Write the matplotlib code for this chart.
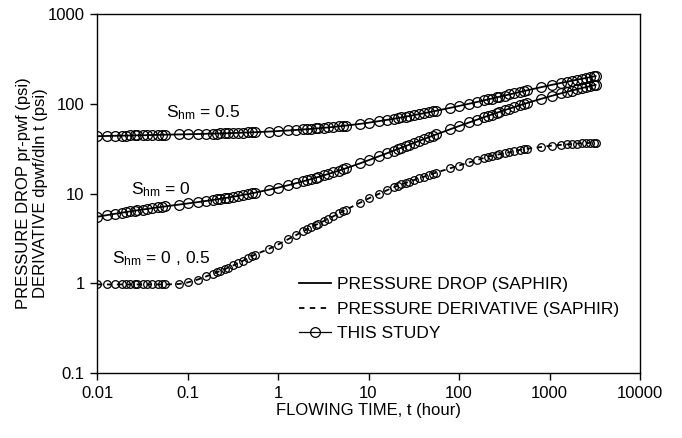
import numpy as np
import matplotlib
matplotlib.use("Agg")
import matplotlib.pyplot as plt
from matplotlib.lines import Line2D

plt.rcParams['font.family'] = ['Liberation Sans', 'DejaVu Sans']
plt.rcParams['mathtext.default'] = 'regular'

# flowing time (hour), same sampling for all three curves
t = [0.010, 0.013, 0.016, 0.019, 0.021, 0.023, 0.026, 0.028, 0.032, 0.036, 0.041, 0.047, 0.052, 0.056, 0.080,
     0.10, 0.13, 0.16, 0.19, 0.21, 0.23, 0.26, 0.28, 0.32, 0.36, 0.41, 0.47, 0.52, 0.56, 0.80,
     1.0, 1.3, 1.6, 1.9, 2.1, 2.3, 2.6, 2.8, 3.2, 3.6, 4.1, 4.7, 5.2, 5.6, 8.0,
     10, 13, 16, 19, 21, 23, 26, 28, 32, 36, 41, 47, 52, 56, 80,
     100, 130, 160, 190, 210, 230, 260, 280, 320, 360, 410, 470, 520, 560, 800,
     1060, 1330, 1550, 1760, 2000, 2260, 2510, 2770, 3080, 3230]

# pressure drop, Shm = 0.5
dp_s05 = [43.5, 43.75, 43.95, 44.1, 44.2, 44.3, 44.4, 44.5, 44.6, 44.7, 44.9, 45.0, 45.1, 45.2, 45.5,
          45.7, 46.0, 46.3, 46.5, 46.6, 46.7, 46.9, 47.0, 47.2, 47.4, 47.6, 47.9, 48.1, 48.2, 49.0,
          49.6, 50.4, 51.1, 51.7, 52.1, 52.4, 53.0, 53.3, 53.9, 54.5, 55.2, 56.0, 56.6, 57.1, 59.6,
          61.5, 64.0, 66.1, 68.0, 69.2, 70.4, 72.0, 73.0, 74.8, 76.5, 78.4, 80.6, 82.3, 83.5, 90.0,
          94.5, 100.2, 105.0, 109.3, 111.9, 114.3, 117.7, 119.7, 123.5, 127.0, 130.9, 135.2, 138.4, 140.8, 152.6,
          162.3, 170.3, 175.8, 180.4, 185.1, 189.6, 193.5, 197.2, 201.2, 203.0]

# pressure drop, Shm = 0
dp_s0 = [5.5, 5.75, 5.95, 6.12, 6.22, 6.31, 6.43, 6.5, 6.63, 6.74, 6.87, 7.0, 7.1, 7.17, 7.52,
         7.74, 8.02, 8.26, 8.47, 8.6, 8.72, 8.89, 9.0, 9.21, 9.4, 9.63, 9.88, 10.08, 10.23, 11.04,
         11.62, 12.38, 13.06, 13.68, 14.07, 14.44, 14.97, 15.3, 15.93, 16.52, 17.21, 17.99, 18.59, 19.05, 21.62,
         23.48, 25.93, 28.09, 30.03, 31.23, 32.36, 33.94, 34.93, 36.78, 38.48, 40.44, 42.6, 44.26, 45.51, 51.97,
         56.39, 61.98, 66.75, 70.94, 73.48, 75.85, 79.13, 81.14, 84.86, 88.22, 92.01, 96.13, 99.25, 101.57, 113.07,
         122.5, 130.33, 135.69, 140.19, 144.77, 149.17, 152.98, 156.59, 160.48, 162.23]

# pressure derivative, Shm = 0 and 0.5
deriv = [0.97, 0.97, 0.97, 0.97, 0.97, 0.97, 0.97, 0.97, 0.97, 0.97, 0.97, 0.97, 0.97, 0.97, 0.98,
         1.02, 1.10, 1.19, 1.27, 1.32, 1.37, 1.44, 1.49, 1.58, 1.67, 1.78, 1.91, 2.01, 2.09, 2.42,
         2.7, 3.1, 3.46, 3.8, 3.99, 4.19, 4.46, 4.62, 4.93, 5.23, 5.58, 5.99, 6.32, 6.57, 7.86,
         8.8, 9.9, 10.87, 11.75, 12.2, 12.6, 13.15, 13.5, 14.15, 14.7, 15.4, 16.2, 16.7, 17.1, 19.1,
         20.5, 22.2, 23.7, 25.0, 25.8, 26.3, 27.0, 27.4, 28.1, 28.8, 29.5, 30.6, 31.2, 31.5, 32.9,
         34.2, 34.8, 35.2, 35.6, 36.0, 36.2, 36.4, 36.6, 36.7, 36.8]

xticks = [0.01, 0.1, 1, 10, 100, 1000, 10000]
xtick_labels = ['0.01', '0.1', '1', '10', '100', '1000', '10000']
yticks = [0.1, 1, 10, 100, 1000]
ytick_labels = ['0.1', '1', '10', '100', '1000']

fig = plt.figure(figsize=(6.82, 4.38), dpi=100)
ax = fig.add_axes([97 / 682, 1 - 373 / 438, (640 - 97) / 682, (373 - 14) / 438])

lw = 1.3
dash = (0, (3, 2.5))
ax.plot(t, dp_s05, color='black', lw=lw)
ax.plot(t, dp_s0, color='black', lw=lw)
ax.plot(t, deriv, color='black', lw=lw, linestyle=dash)
ax.plot(t, dp_s05, 'o', ms=7, mfc='none', mec='black', mew=0.9)
ax.plot(t, dp_s0, 'o', ms=7, mfc='none', mec='black', mew=0.9)
ax.plot(t, deriv, 'o', ms=5.5, mfc='none', mec='black', mew=0.9)

ax.set_xscale('log')
ax.set_yscale('log')
ax.set_xlim(0.01, 10000)
ax.set_ylim(0.1, 1000)
ax.set_xticks(xticks)
ax.set_xticklabels(xtick_labels)
ax.set_yticks(yticks)
ax.set_yticklabels(ytick_labels)
ax.minorticks_off()
ax.tick_params(direction='out', length=5, width=1, labelsize=12, pad=4)
for s in ax.spines.values():
    s.set_linewidth(1)

ax.text(0.0575, 79, 'S$_{hm}$ = 0.5', fontsize=12.5, va='center', ha='left')
ax.text(0.0237, 10.9, 'S$_{hm}$ = 0', fontsize=12.5, va='center', ha='left')
ax.text(0.0146, 1.86, 'S$_{hm}$ = 0 , 0.5', fontsize=12.5, va='center', ha='left')

fig.text(368 / 682, 1 - 410 / 438, 'FLOWING TIME, t (hour)', fontsize=12, ha='center', va='center')
fig.text(32 / 682, 1 - 193 / 438, 'PRESSURE DROP pr-pwf (psi)\nDERIVATIVE dpwf/dln t (psi)',
         fontsize=12, rotation=90, ha='center', va='center', multialignment='center', linespacing=1.1)

handles = [Line2D([], [], color='black', lw=lw),
           Line2D([], [], color='black', lw=lw, linestyle=(0, (3, 3))),
           Line2D([], [], color='black', lw=0.9, marker='o', ms=7, mfc='none', mew=0.9)]
labels = ['PRESSURE DROP (SAPHIR)', 'PRESSURE DERIVATIVE (SAPHIR)', 'THIS STUDY']
fig.legend(handles, labels, loc='center left', bbox_to_anchor=(299 / 682, 1 - 309 / 438),
           frameon=False, fontsize=12.5, handlelength=1.85, handletextpad=0.35,
           labelspacing=0.52, borderpad=0, borderaxespad=0)

fig.savefig('out.png', dpi=100)
